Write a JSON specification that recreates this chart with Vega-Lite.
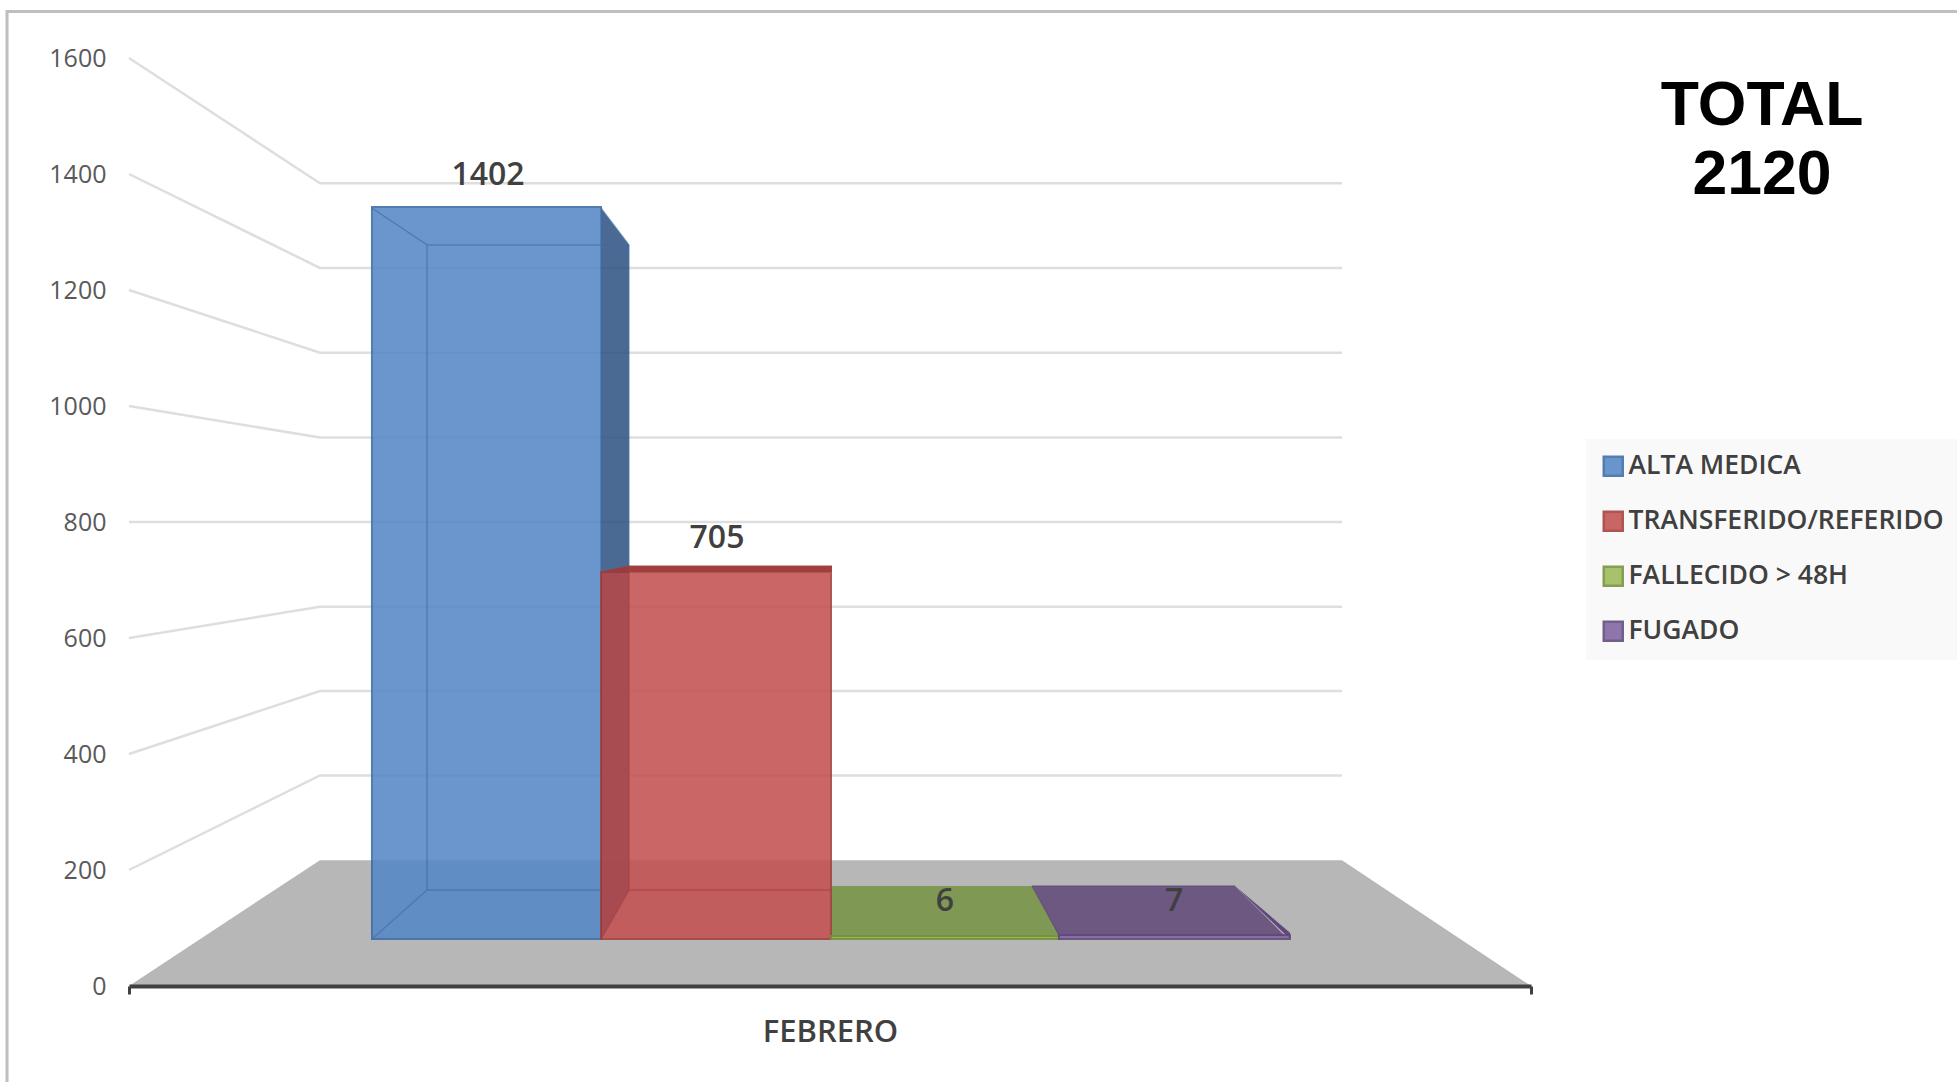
{
"$schema":"https://vega.github.io/schema/vega-lite/v6.json",
"width":1402,"height":928,"autosize":"none",
"padding":{"left":129,"top":58,"right":426,"bottom":96},
"background":"#ffffff",
"config":{"view":{"stroke":null}},
"datasets":{
"barras":[
{"serie":"ALTA MEDICA","valor":1402,"x":0.1733,"x2":0.3367,"y":1343,"y2":81,"tx":0.2561,"ty":1398},
{"serie":"TRANSFERIDO/REFERIDO","valor":705,"x":0.3367,"x2":0.5007,"y":713.8,"y2":81,"tx":0.4194,"ty":772},
{"serie":"FALLECIDO > 48H","valor":6,"x":0.5007,"x2":0.6633,"y":86,"y2":81,"tx":0.582,"ty":146},
{"serie":"FUGADO","valor":7,"x":0.6633,"x2":0.8281,"y":88,"y2":81,"tx":0.7454,"ty":146}],
"piso":[{"x":0,"y":0,"y2":0},{"x":0.1362,"y":217,"y2":0},{"x":0.8652,"y":217,"y2":0},{"x":1,"y":0,"y2":0}],
"rejilla":[
{"n":1600,"x":0,"y":1600},{"n":1600,"x":0.1362,"y":1384},{"n":1600,"x":0.8652,"y":1384},
{"n":1400,"x":0,"y":1400},{"n":1400,"x":0.1362,"y":1238},{"n":1400,"x":0.8652,"y":1238},
{"n":1200,"x":0,"y":1200},{"n":1200,"x":0.1362,"y":1092},{"n":1200,"x":0.8652,"y":1092},
{"n":1000,"x":0,"y":1000},{"n":1000,"x":0.1362,"y":945.7},{"n":1000,"x":0.8652,"y":945.7},
{"n":800,"x":0,"y":800},{"n":800,"x":0.1362,"y":800},{"n":800,"x":0.8652,"y":800},
{"n":600,"x":0,"y":600},{"n":600,"x":0.1362,"y":654},{"n":600,"x":0.8652,"y":654},
{"n":400,"x":0,"y":400},{"n":400,"x":0.1362,"y":508.6},{"n":400,"x":0.8652,"y":508.6},
{"n":200,"x":0,"y":200},{"n":200,"x":0.1362,"y":363},{"n":200,"x":0.8652,"y":363}],
"caras":[
{"cara":"azul_lado","x":0.3367,"y":1341,"y2":81},{"cara":"azul_lado","x":0.3566,"y":1277.6,"y2":165.5},
{"cara":"rojo_lado","x":0.3367,"y":713.8,"y2":81},{"cara":"rojo_lado","x":0.3566,"y":724,"y2":165.5},
{"cara":"rojo_techo","x":0.3367,"y":713.8,"y2":713.8},{"cara":"rojo_techo","x":0.3566,"y":724,"y2":713.8},{"cara":"rojo_techo","x":0.5014,"y":724,"y2":713.8},
{"cara":"verde_techo","x":0.5007,"y":172.4,"y2":81},{"cara":"verde_techo","x":0.6441,"y":172.4,"y2":81},{"cara":"verde_techo","x":0.6633,"y":86,"y2":81},
{"cara":"morado_lado","x":0.7889,"y":172.4,"y2":172.4},{"cara":"morado_lado","x":0.8281,"y":92,"y2":81},
{"cara":"morado_techo","x":0.6441,"y":172.4,"y2":172.4},{"cara":"morado_techo","x":0.6633,"y":172.4,"y2":86},{"cara":"morado_techo","x":0.7889,"y":172.4,"y2":86},{"cara":"morado_techo","x":0.8245,"y":86,"y2":86}],
"aristas":[
{"serie":"ALTA MEDICA","a":1,"x":0.2126,"y":1277.6},{"serie":"ALTA MEDICA","a":1,"x":0.3566,"y":1277.6},
{"serie":"ALTA MEDICA","a":2,"x":0.2126,"y":1277.6},{"serie":"ALTA MEDICA","a":2,"x":0.2126,"y":165.5},
{"serie":"ALTA MEDICA","a":3,"x":0.2126,"y":165.5},{"serie":"ALTA MEDICA","a":3,"x":0.3367,"y":165.5},
{"serie":"ALTA MEDICA","a":4,"x":0.1733,"y":1341},{"serie":"ALTA MEDICA","a":4,"x":0.2126,"y":1277.6},
{"serie":"ALTA MEDICA","a":5,"x":0.1733,"y":81},{"serie":"ALTA MEDICA","a":5,"x":0.2126,"y":165.5},
{"serie":"ALTA MEDICA","a":6,"x":0.3367,"y":1341},{"serie":"ALTA MEDICA","a":6,"x":0.3566,"y":1277.6},
{"serie":"ALTA MEDICA","a":7,"x":0.3566,"y":1277.6},{"serie":"ALTA MEDICA","a":7,"x":0.3566,"y":724},
{"serie":"TRANSFERIDO/REFERIDO","a":8,"x":0.3566,"y":713.8},{"serie":"TRANSFERIDO/REFERIDO","a":8,"x":0.3566,"y":165.5},
{"serie":"TRANSFERIDO/REFERIDO","a":9,"x":0.3566,"y":165.5},{"serie":"TRANSFERIDO/REFERIDO","a":9,"x":0.5007,"y":165.5},
{"serie":"TRANSFERIDO/REFERIDO","a":10,"x":0.3367,"y":81},{"serie":"TRANSFERIDO/REFERIDO","a":10,"x":0.3566,"y":165.5},
{"serie":"TRANSFERIDO/REFERIDO","a":11,"x":0.3367,"y":713.8},{"serie":"TRANSFERIDO/REFERIDO","a":11,"x":0.3566,"y":724},
{"serie":"TRANSFERIDO/REFERIDO","a":12,"x":0.3566,"y":724},{"serie":"TRANSFERIDO/REFERIDO","a":12,"x":0.5014,"y":724},
{"serie":"FUGADO","a":13,"x":0.6441,"y":172.4},{"serie":"FUGADO","a":13,"x":0.7889,"y":172.4},
{"serie":"FUGADO","a":14,"x":0.6441,"y":172.4},{"serie":"FUGADO","a":14,"x":0.6633,"y":88}],
"marco":[{"x":-0.087,"y":-166},{"x":-0.087,"y":1680},{"x":1.306,"y":1680}],
"total":[{"t":"TOTAL","x":1.1648,"y":1517},{"t":"2120","x":1.1648,"y":1398}]
},
"data":{"name":"barras"},
"encoding":{
"x":{"field":"x","type":"quantitative","scale":{"domain":[0,1],"nice":false,"zero":false},
 "axis":{"title":"FEBRERO","zindex":1,"values":[0,1],"labels":false,"grid":false,"domainColor":"#404040","domainWidth":4,"tickColor":"#404040","tickWidth":3,"tickSize":8,"titleFont":"Open Sans","titleFontSize":31,"titleFontWeight":600,"titleColor":"#404040","titlePadding":22}},
"y":{"field":"y","type":"quantitative","scale":{"domain":[0,1600],"nice":false,"zero":false},
 "axis":{"title":null,"values":[0,200,400,600,800,1000,1200,1400,1600],"format":"d","domain":false,"ticks":false,"grid":false,"labelFont":"Open Sans","labelFontSize":25,"labelColor":"#595959","labelPadding":23}}
},
"layer":[
{"data":{"name":"marco"},"mark":{"type":"line","stroke":"#bfbfbf","strokeWidth":3,"clip":false},"encoding":{"order":{"field":"y"}}},
{"data":{"name":"piso"},"mark":{"type":"area","fill":"#b7b7b7"},"encoding":{"y2":{"field":"y2"}}},
{"data":{"name":"rejilla"},"mark":{"type":"line","stroke":"#dedede","strokeWidth":2.5},"encoding":{"detail":{"field":"n"}}},
{"data":{"name":"caras"},"transform":[{"filter":"datum.cara==='azul_lado'"}],"mark":{"type":"area","fill":"#2A5080","opacity":0.85},"encoding":{"y2":{"field":"y2"}}},
{"data":{"name":"caras"},"transform":[{"filter":"datum.cara==='rojo_techo'"}],"mark":{"type":"area","fill":"#A0403E"},"encoding":{"y2":{"field":"y2"}}},
{"data":{"name":"caras"},"transform":[{"filter":"datum.cara==='verde_techo'"}],"mark":{"type":"area","fill":"#7F9853"},"encoding":{"y2":{"field":"y2"}}},
{"data":{"name":"caras"},"transform":[{"filter":"datum.cara==='morado_lado'"}],"mark":{"type":"area","fill":"#5F497A"},"encoding":{"y2":{"field":"y2"}}},
{"data":{"name":"caras"},"transform":[{"filter":"datum.cara==='morado_techo'"}],"mark":{"type":"area","fill":"#6C5880"},"encoding":{"y2":{"field":"y2"}}},
{"mark":{"type":"rect","strokeWidth":2,"opacity":0.88},
 "encoding":{"x2":{"field":"x2"},"y2":{"field":"y2"},
  "fill":{"field":"serie","type":"nominal","sort":null,"scale":{"domain":["ALTA MEDICA","TRANSFERIDO/REFERIDO","FALLECIDO > 48H","FUGADO"],"range":["#5688C7","#C35150","#9BBB59","#8064A2"]},
   "legend":{"title":null,"orient":"none","legendX":1457,"legendY":381,"fillColor":"#f9f9f9","padding":14,"symbolType":"square","symbolSize":360,"symbolStrokeWidth":2.5,"labelFont":"Open Sans","labelFontSize":26.5,"labelFontWeight":600,"labelColor":"#404040","labelLimit":420,"labelOffset":2,"rowPadding":25}},
  "stroke":{"field":"serie","type":"nominal","sort":null,"scale":{"domain":["ALTA MEDICA","TRANSFERIDO/REFERIDO","FALLECIDO > 48H","FUGADO"],"range":["#3D6CA5","#A33F3D","#76923C","#5F497A"]}}}},
{"data":{"name":"caras"},"transform":[{"filter":"datum.cara==='rojo_lado'"}],"mark":{"type":"area","fill":"#7A2A35","opacity":0.18},"encoding":{"y2":{"field":"y2"}}},
{"data":{"name":"aristas"},"mark":{"type":"line","strokeWidth":1.5,"opacity":0.6},
 "encoding":{"detail":{"field":"a"},"order":{"field":"y"},"stroke":{"field":"serie","type":"nominal","sort":null,"legend":null}}},
{"mark":{"type":"text","font":"Open Sans","fontSize":32,"fontWeight":600,"fill":"#404040","baseline":"middle"},
 "encoding":{"x":{"field":"tx","type":"quantitative"},"y":{"field":"ty","type":"quantitative"},"text":{"field":"valor","type":"quantitative"}}},
{"data":{"name":"total"},"mark":{"type":"text","font":"Liberation Sans","fontSize":62.5,"fontWeight":700,"fill":"#000000","baseline":"middle"},
 "encoding":{"text":{"field":"t","type":"nominal"}}}
]
}
